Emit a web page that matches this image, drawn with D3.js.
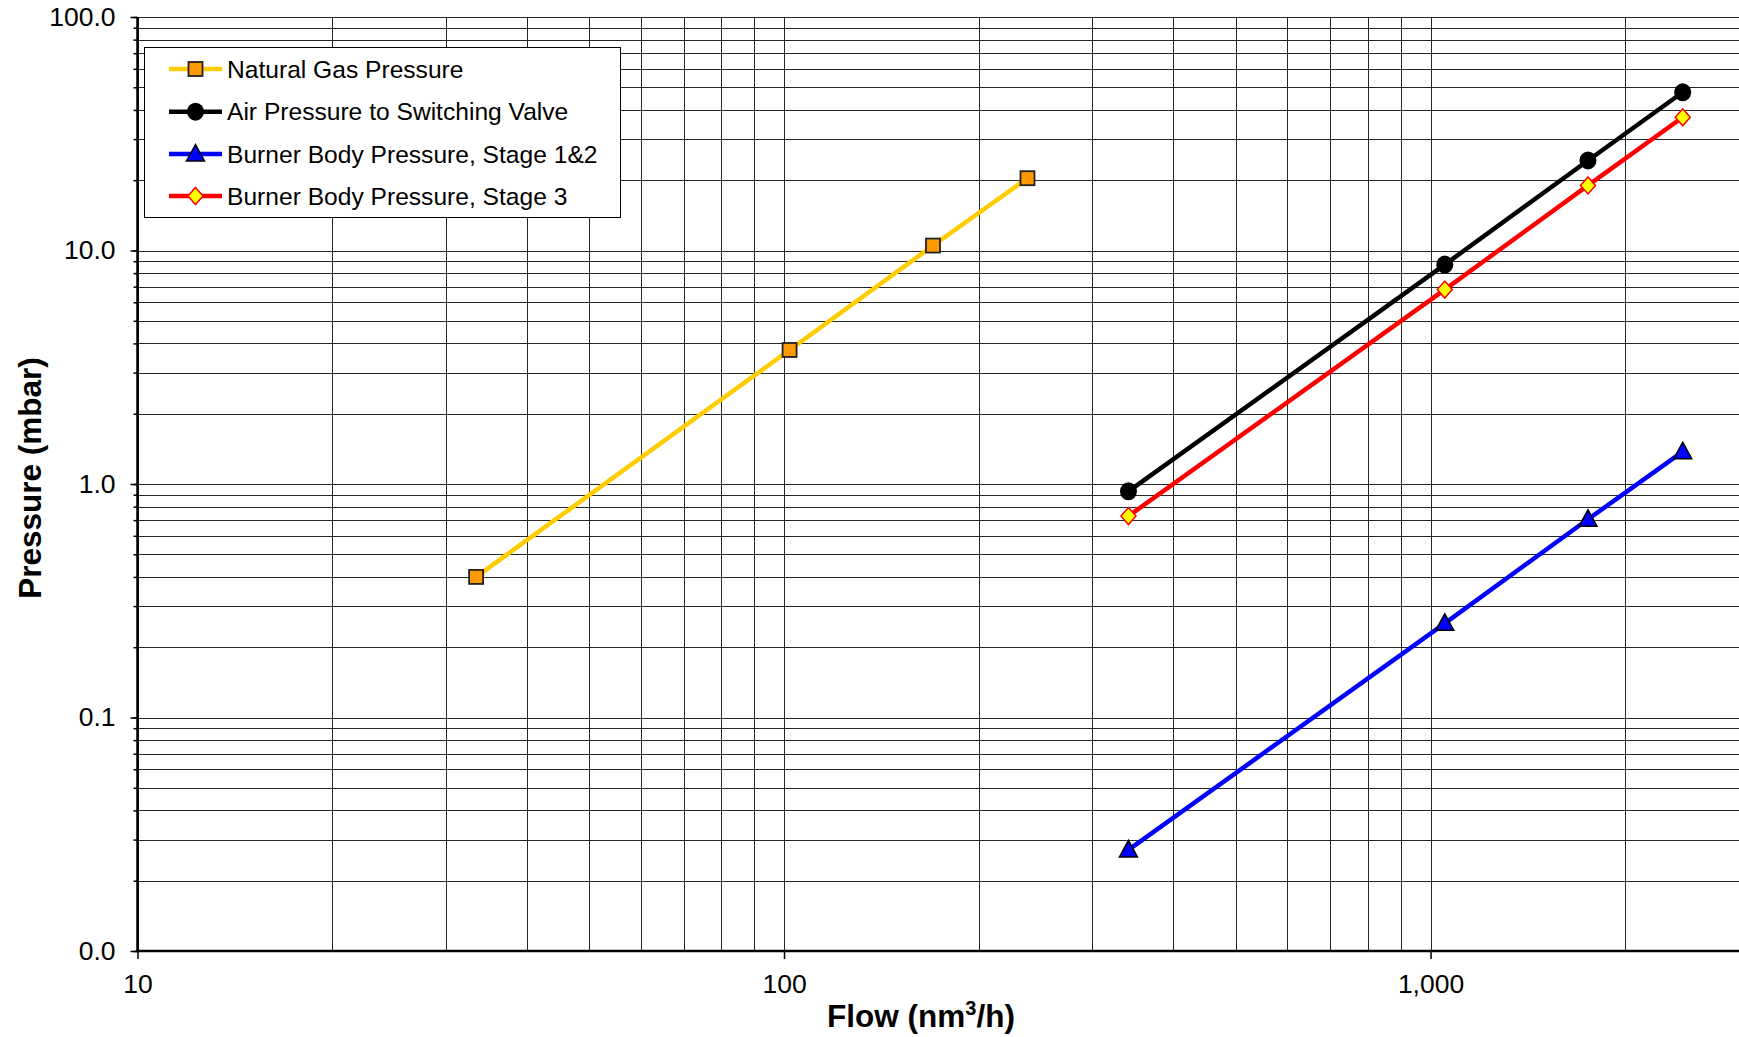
<!DOCTYPE html>
<html>
<head>
<meta charset="utf-8">
<script src="https://cdn.jsdelivr.net/npm/d3@7"></script>
<style>
  html, body { margin: 0; padding: 0; background: #fff; }
  svg { display: block; font-family: "Liberation Sans", Arial, sans-serif; }
</style>
</head>
<body>
<svg id="chart" width="1739" height="1037"></svg>
<script>
// ---- data ----
const seriesNames = ["Natural Gas Pressure", "Air Pressure to Switching Valve", "Burner Body Pressure, Stage 1&2", "Burner Body Pressure, Stage 3"];
const gasFlow = [33.4, 102, 170, 238];
const gasPressure = [0.40, 3.75, 10.5, 20.4];
const airFlow = [341, 1052, 1752, 2455];
const airPressure = [0.93, 8.7, 24.3, 47.6];
const stage12Flow = [341, 1052, 1752, 2455];
const stage12Pressure = [0.0271, 0.253, 0.706, 1.375];
const stage3Flow = [341, 1052, 1752, 2455];
const stage3Pressure = [0.729, 6.8, 19.0, 37.2];
const xTickValues = [10, 100, 1000];
const yTickValues = [100, 10, 1, 0.1, 0.01];
const xTitleParts = ["Flow (nm", "3", "/h)"];
const yTitle = "Pressure (mbar)";

// ---- layout ----
const svg = d3.select("#chart");
const pLeft = 137.5, pRight = 1739, pTop = 17, pBottom = 951;
const x = d3.scaleLog().domain([10, 3000]).range([pLeft, pRight]);
const y = d3.scaleLog().domain([0.01, 100]).range([pBottom, pTop]);

// minor grid values
const xGrid = [];
for (let d = 10; d <= 1000; d *= 10) for (let m = 1; m <= 9; m++) { const v = d * m; if (v <= 3000) xGrid.push(v); }
const yGrid = [];
for (let d = 0.01; d < 99; d *= 10) for (let m = 1; m <= 9; m++) yGrid.push(+(d * m).toPrecision(3));
yGrid.push(100);

const g = svg.append("g");
// gridlines
g.append("g").selectAll("line").data(xGrid).join("line")
  .attr("x1", d => Math.round(x(d)) + 0.5).attr("x2", d => Math.round(x(d)) + 0.5)
  .attr("y1", pTop).attr("y2", pBottom)
  .attr("stroke", "#262626").attr("stroke-width", 1);
g.append("g").selectAll("line").data(yGrid).join("line")
  .attr("y1", d => Math.round(y(d)) + 0.5).attr("y2", d => Math.round(y(d)) + 0.5)
  .attr("x1", pLeft).attr("x2", pRight)
  .attr("stroke", "#262626").attr("stroke-width", 1);

// y axis with minor ticks
const yAxis = d3.axisLeft(y).tickValues(yGrid).tickSize(4).tickFormat("");
const yAx = svg.append("g").attr("transform", `translate(${pLeft},0)`).call(yAxis);
yAx.select(".domain").remove();
yAx.selectAll("line").attr("stroke", "#000").attr("stroke-width", 1.5);
const yMaj = d3.axisLeft(y).tickValues(yTickValues).tickSize(7).tickPadding(8).tickFormat(d3.format(".1f"));
const yAx2 = svg.append("g").attr("transform", `translate(${pLeft},0)`).call(yMaj);
yAx2.select(".domain").remove();
yAx2.selectAll("line").attr("stroke", "#000").attr("stroke-width", 1.5);
yAx2.selectAll("text").attr("font-size", 26.5).attr("font-family", "Liberation Sans, Arial, sans-serif").attr("fill", "#000").attr("x", -22);

// x axis
const xAxis = d3.axisBottom(x).tickValues(xTickValues).tickSize(8).tickPadding(15).tickFormat(d3.format(","));
const xAx = svg.append("g").attr("transform", `translate(0,${pBottom})`).call(xAxis);
xAx.select(".domain").remove();
xAx.selectAll("line").attr("stroke", "#000").attr("stroke-width", 1.5);
xAx.selectAll("text").attr("font-size", 26.5).attr("font-family", "Liberation Sans, Arial, sans-serif").attr("fill", "#000");

// axis lines
svg.append("line").attr("x1", pLeft).attr("x2", pLeft).attr("y1", pTop).attr("y2", pBottom + 1).attr("stroke", "#000").attr("stroke-width", 2.5);
svg.append("line").attr("x1", pLeft - 1).attr("x2", pRight).attr("y1", pBottom).attr("y2", pBottom).attr("stroke", "#000").attr("stroke-width", 2.5);

// titles
const xt = svg.append("text").attr("x", 921).attr("y", 1027).attr("text-anchor", "middle")
  .attr("font-size", 31.5).attr("font-weight", "bold");
xt.append("tspan").text(xTitleParts[0]);
xt.append("tspan").attr("font-size", 20).attr("dy", -12).text(xTitleParts[1]);
xt.append("tspan").attr("dy", 12).text(xTitleParts[2]);
svg.append("text").attr("transform", "translate(41,478) rotate(-90)").attr("text-anchor", "middle")
  .attr("font-size", 31.5).attr("font-weight", "bold").text(yTitle);

// series
const series = [
  { name: seriesNames[0], flow: gasFlow, p: gasPressure, color: "#FFCC00", marker: "square", fill: "#FF9900", stroke: "#222" },
  { name: seriesNames[1], flow: airFlow, p: airPressure, color: "#000000", marker: "circle", fill: "#000", stroke: "#000" },
  { name: seriesNames[2], flow: stage12Flow, p: stage12Pressure, color: "#0000FF", marker: "triangle", fill: "#0000FF", stroke: "#000" },
  { name: seriesNames[3], flow: stage3Flow, p: stage3Pressure, color: "#FF0000", marker: "diamond", fill: "#FFFF00", stroke: "#FF0000" }
];

function drawMarker(sel, s, cx, cy) {
  if (s.marker === "square") {
    sel.append("rect").attr("x", cx - 7).attr("y", cy - 7).attr("width", 14).attr("height", 14)
      .attr("fill", s.fill).attr("stroke", s.stroke).attr("stroke-width", 1.8);
  } else if (s.marker === "circle") {
    sel.append("ellipse").attr("cx", cx).attr("cy", cy).attr("rx", 8.5).attr("ry", 9).attr("fill", s.fill);
  } else if (s.marker === "triangle") {
    sel.append("path").attr("d", `M${cx},${cy - 9.5}L${cx + 9},${cy + 7}L${cx - 9},${cy + 7}Z`)
      .attr("fill", s.fill).attr("stroke", s.stroke).attr("stroke-width", 1.5);
  } else {
    sel.append("path").attr("d", `M${cx},${cy - 8.5}L${cx + 7.5},${cy}L${cx},${cy + 8.5}L${cx - 7.5},${cy}Z`)
      .attr("fill", s.fill).attr("stroke", s.stroke).attr("stroke-width", 1.5);
  }
}

const line = d3.line().x(d => x(d[0])).y(d => y(d[1]));
series.forEach(s => {
  const pts = s.flow.map((f, i) => [f, s.p[i]]);
  svg.append("path").datum(pts).attr("d", line).attr("fill", "none")
    .attr("stroke", s.color).attr("stroke-width", 4.5);
  const mg = svg.append("g");
  pts.forEach(p => drawMarker(mg, s, x(p[0]), y(p[1])));
});

// legend
const lg = svg.append("g");
lg.append("rect").attr("x", 144.5).attr("y", 47.5).attr("width", 476).attr("height", 170)
  .attr("fill", "#fff").attr("stroke", "#000").attr("stroke-width", 1);
const legendY = [69, 111.7, 154, 196];
series.forEach((s, i) => {
  const ly = legendY[i];
  lg.append("line").attr("x1", 169).attr("x2", 222).attr("y1", ly).attr("y2", ly)
    .attr("stroke", s.color).attr("stroke-width", 4.5);
  drawMarker(lg, s, 195.5, ly);
  lg.append("text").attr("x", 227).attr("y", ly).attr("dy", "0.35em")
    .attr("font-size", 24.6).attr("fill", "#000").text(s.name);
});
</script>
</body>
</html>
